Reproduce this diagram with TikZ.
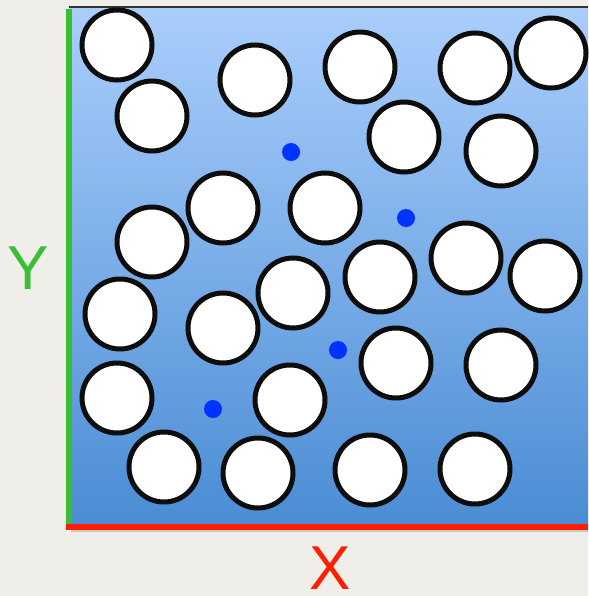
\documentclass[tikz,border=0pt]{standalone}
\usepackage{fontspec}
\setmainfont{Liberation Sans}
\usepackage{xcolor}
\usetikzlibrary{shadows}
\definecolor{paper}{RGB}{239,238,232}
\definecolor{boxtop}{RGB}{170,206,252}
\definecolor{boxbottom}{RGB}{74,140,212}
\definecolor{axisgreen}{RGB}{58,190,52}
\definecolor{axisred}{RGB}{255,30,0}
\definecolor{solutecol}{RGB}{0,51,255}
\tikzset{
  % pictures are laid out in pixels of the 588x596 reference
  particle/.style={circle, draw=black!95, fill=white, line width=5pt, minimum size=70pt, inner sep=0pt,
    drop shadow={opacity=0.25, shadow xshift=1.5pt, shadow yshift=-2pt}},
  solute/.style={circle, fill=solutecol, minimum size=18pt, inner sep=0pt,
    drop shadow={opacity=0.2, shadow xshift=0.8pt, shadow yshift=-1pt}},
  axislabel/.style={font=\fontsize{62}{62}\selectfont, inner sep=0pt},
}
\begin{document}
\begin{tikzpicture}[x=1pt, y=-1pt]
  % canvas
  \fill[paper] (0,0) rectangle (588,596);
  \useasboundingbox (0,0) rectangle (588,596);

  % simulation box
  \fill[black!35, opacity=0.5] (71,10) rectangle (588,532);
  \shade[top color=boxtop, bottom color=boxbottom] (69,7) rectangle (588,527);
  \draw[black!80, line width=1.2pt] (69,7) -- (588,7);

  % particles
  \foreach \n/\px/\py in {1/117/45, 2/152/116, 3/255/80, 4/360/67, 5/475/68,
      6/551/53, 7/404/137, 8/501/151, 9/223/208, 10/325/208,
      11/152/242, 12/466/258, 13/380/277, 14/545/276, 15/293/293,
      16/120/314, 17/223/328, 18/396/363, 19/501/365, 20/117/398,
      21/290/400, 22/164/467, 23/258/473, 24/370/470, 25/475/469}
    \node[particle] (c\n) at (\px,\py) {};

  % solutes
  \foreach \n/\px/\py in {1/291/152, 2/406/218, 3/338/350, 4/213/409}
    \node[solute] (d\n) at (\px,\py) {};

  % axes
  \coordinate (origin) at (69,527);
  \coordinate (ytop) at (69,9);
  \coordinate (xend) at (588,527);
  \draw[axisgreen, line width=6pt] (origin) -- (ytop);
  \draw[axisred, line width=6pt] ([xshift=-3pt]origin) -- (xend);

  \node[axislabel, text=axisgreen, anchor=south] (ylab) at (28,290) {Y};
  \node[axislabel, text=axisred, anchor=south] (xlab) at (330,590) {X};
\end{tikzpicture}
\end{document}
